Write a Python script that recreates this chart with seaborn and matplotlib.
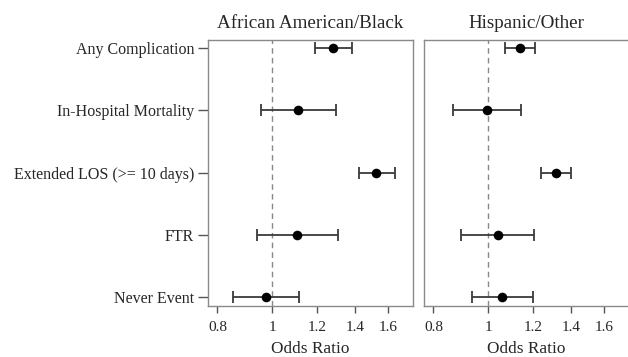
import numpy as np
import pandas as pd
import matplotlib
matplotlib.use("Agg")
import matplotlib.pyplot as plt
import seaborn as sns

outcomes = ["Any Complication", "In-Hospital Mortality", "Extended LOS (>= 10 days)", "FTR", "Never Event"]
groups = ["African American/Black", "Hispanic/Other"]

black_or = [1.28, 1.11, 1.525, 1.105, 0.973]
black_lo = [1.188, 0.953, 1.42, 0.939, 0.852]
black_hi = [1.383, 1.293, 1.647, 1.305, 1.115]

hisp_or = [1.135, 0.996, 1.315, 1.04, 1.058]
hisp_lo = [1.068, 0.867, 1.24, 0.895, 0.934]
hisp_hi = [1.21, 1.142, 1.40, 1.204, 1.197]

xticks = [0.8, 1, 1.2, 1.4, 1.6]
xticklabels = ["0.8", "1", "1.2", "1.4", "1.6"]

sns.set_theme(style="white")
plt.rcParams["font.family"] = ["Liberation Serif", "DejaVu Serif"]

fig = plt.figure(figsize=(6.28, 3.57), dpi=100)
ax1 = fig.add_axes([208 / 628, 1 - 306 / 357, 205 / 628, 266 / 357])
ax2 = fig.add_axes([424 / 628, 1 - 306 / 357, 205 / 628, 266 / 357])

ypos = np.arange(len(outcomes))
data = [(ax1, groups[0], black_or, black_lo, black_hi),
        (ax2, groups[1], hisp_or, hisp_lo, hisp_hi)]

for i, (ax, title, orv, lo, hi) in enumerate(data):
    df = pd.DataFrame({"outcome": outcomes, "y": ypos, "or": orv, "lo": lo, "hi": hi})
    ax.set_xscale("log")
    ax.axvline(1, color="#888888", linestyle=(0, (4, 3)), linewidth=1.0, zorder=1)
    err = np.vstack([df["or"] - df["lo"], df["hi"] - df["or"]])
    ax.errorbar(df["or"], df["y"], xerr=err, fmt="none", ecolor="#3a3a3a",
                elinewidth=1.3, capsize=4.5, capthick=1.3, zorder=2)
    sns.scatterplot(data=df, x="or", y="y", ax=ax, color="black", s=48,
                    edgecolor="black", linewidth=0, zorder=3, legend=False)
    ax.set_xlim(0.77, 1.77)
    ax.set_ylim(4.15, -0.135)
    ax.set_xticks(xticks)
    ax.set_xticklabels(xticklabels)
    ax.xaxis.set_minor_locator(matplotlib.ticker.NullLocator())
    ax.set_xlabel("Odds Ratio", fontsize=12.4, labelpad=5)
    ax.set_ylabel("")
    ax.set_title(title, fontsize=13.7, pad=9)
    for s in ax.spines.values():
        s.set_color("#8a8a8a")
        s.set_linewidth(1.0)
    ax.tick_params(axis="x", direction="out", length=5, width=1, color="#555555",
                   labelsize=11, pad=6, bottom=True)
    if i == 0:
        ax.set_yticks(ypos)
        ax.set_yticklabels(outcomes)
        ax.tick_params(axis="y", direction="out", length=7, width=1, color="#555555",
                       labelsize=11.5, pad=3, left=True)
    else:
        ax.set_yticks([])

fig.savefig("out.png", dpi=100)
